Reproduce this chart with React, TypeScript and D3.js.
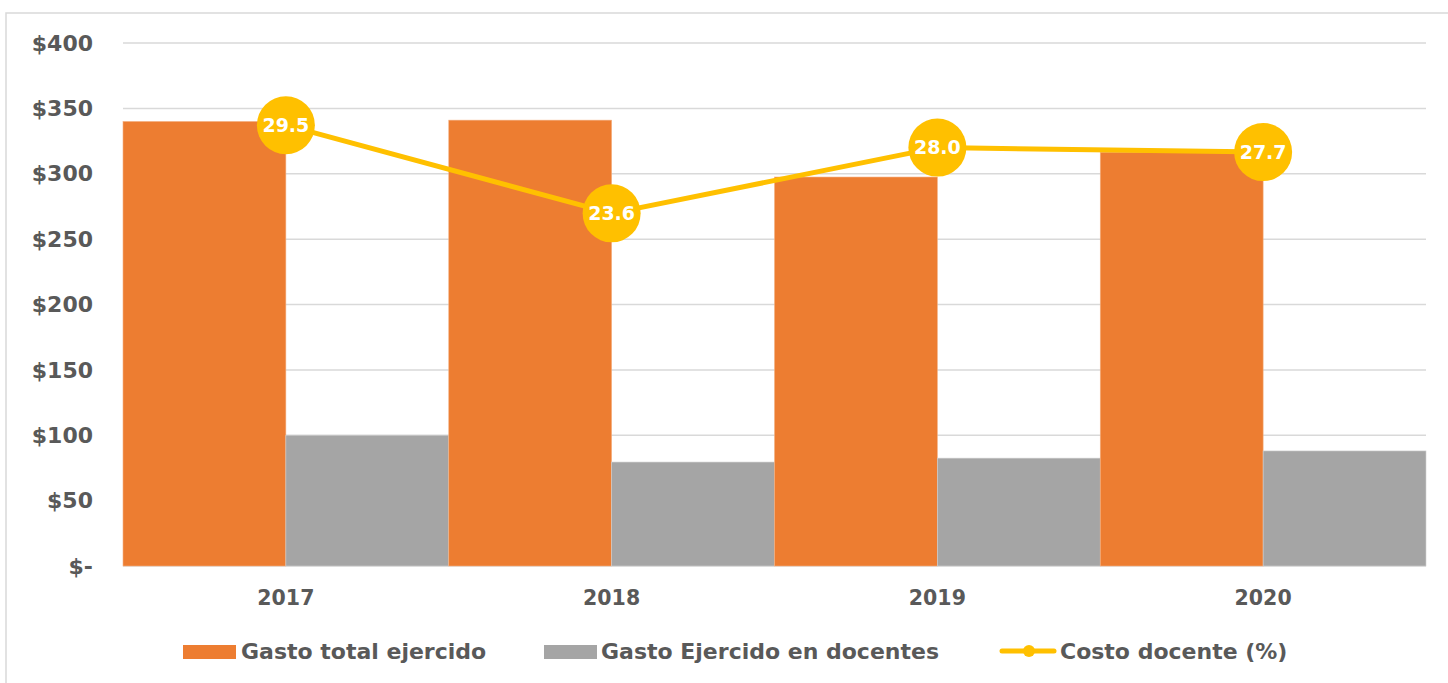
import React from 'react';
import * as d3 from 'd3';

const years = ['2017', '2018', '2019', '2020'];
const gastoTotal = [340, 341, 297.5, 316.5];
const gastoDocentes = [100, 79.5, 82.5, 88];
const costoDocente = [29.5, 23.6, 28.0, 27.7];
const yTicks = [0, 50, 100, 150, 200, 250, 300, 350, 400];

const W = 1448;
const H = 683;
const plot = { left: 123, right: 1426, top: 43, bottom: 566 };
const FONT = '"DejaVu Sans", sans-serif';
const TEXT = '#595959';
const ORANGE = '#ED7D31';
const GRAY = '#A5A5A5';
const YELLOW = '#FFC000';

export default function App() {
  const x = d3.scaleBand().domain(years).range([plot.left, plot.right]).paddingInner(0).paddingOuter(0);
  const sub = d3.scaleBand().domain(['total', 'doc']).range([0, x.bandwidth()]);
  const y = d3.scaleLinear().domain([0, 400]).range([plot.bottom, plot.top]);
  const y2 = d3.scaleLinear().domain([0, 35]).range([plot.bottom, plot.top]);

  const cx = (yr: string) => (x(yr) as number) + x.bandwidth() / 2;
  const line = d3.line<number>().x((_, i) => cx(years[i])).y(d => y2(d));

  const fmt = (v: number) => (v === 0 ? '$-' : `$${v}`);

  return (
    <svg width={W} height={H} style={{ position: 'absolute', left: 0, top: 0, background: '#fff' }} fontFamily={FONT}>
      <rect x={6} y={13} width={W} height={H} fill="#fff" stroke="#D9D9D9" strokeWidth={1.5} />

      {yTicks.map(t => (
        <g key={t}>
          <line x1={plot.left} x2={plot.right} y1={y(t)} y2={y(t)} stroke="#D9D9D9" strokeWidth={1.5} />
          <text x={93} y={y(t)} dy="0.35em" textAnchor="end" fontSize={22} fontWeight="bold" fill={TEXT}>
            {fmt(t)}
          </text>
        </g>
      ))}

      {years.map((yr, i) => (
        <g key={yr}>
          <rect
            x={(x(yr) as number) + (sub('total') as number)}
            y={y(gastoTotal[i])}
            width={sub.bandwidth()}
            height={y(0) - y(gastoTotal[i])}
            fill={ORANGE}
            stroke="#F4B183"
            strokeWidth={0.6}
          />
          <rect
            x={(x(yr) as number) + (sub('doc') as number)}
            y={y(gastoDocentes[i])}
            width={sub.bandwidth()}
            height={y(0) - y(gastoDocentes[i])}
            fill={GRAY}
            stroke="#D0D0D0"
            strokeWidth={0.6}
          />
          <text x={cx(yr)} y={598} dy="0.35em" textAnchor="middle" fontSize={20.5} fontWeight="bold" fill={TEXT}>
            {yr}
          </text>
        </g>
      ))}

      <path d={line(costoDocente) as string} fill="none" stroke={YELLOW} strokeWidth={5} strokeLinejoin="round" />
      {costoDocente.map((v, i) => (
        <g key={i}>
          <circle cx={cx(years[i])} cy={y2(v)} r={29} fill={YELLOW} />
          <text x={cx(years[i])} y={y2(v)} dy="0.36em" textAnchor="middle" fontSize={19} fontWeight="bold" fill="#fff">
            {v.toFixed(1)}
          </text>
        </g>
      ))}

      <g fontSize={22} fontWeight="bold" fill={TEXT}>
        <rect x={183} y={645} width={53} height={14} fill={ORANGE} />
        <text x={241} y={651} dy="0.35em">Gasto total ejercido</text>
        <rect x={544} y={645} width={53} height={14} fill={GRAY} />
        <text x={601} y={651} dy="0.35em">Gasto Ejercido en docentes</text>
        <line x1={1002} x2={1054} y1={651} y2={651} stroke={YELLOW} strokeWidth={5} strokeLinecap="round" />
        <circle cx={1029} cy={651} r={6} fill={YELLOW} />
        <text x={1060} y={651} dy="0.35em">Costo docente (%)</text>
      </g>
    </svg>
  );
}
